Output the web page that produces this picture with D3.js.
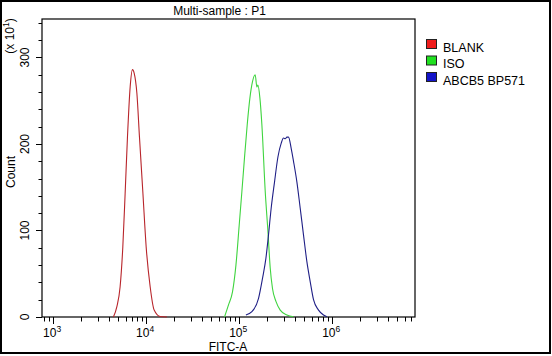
<!DOCTYPE html>
<html><head><meta charset="utf-8">
<script src="https://cdn.jsdelivr.net/npm/d3@7"></script>
<style>body{margin:0;background:#fff}svg{display:block}text{font-family:"Liberation Sans",Arial,sans-serif;fill:#000}</style>
</head><body><svg id="c" width="552" height="356"></svg>
<script>
const seriesNames = ["BLANK", "ISO", "ABCB5 BP571"];
const lineColors = ["#b8252b", "#3fd43f", "#1f1f86"];
const swatchColors = ["#ee1c1c", "#20e020", "#1414c8"];
const blankX = [4446,4842,5248,5610,5943,6295,6730,7129,7430,7943,8472,9226,10000,11041,12190,14160,16710];
const blankY = [0,12,35,81,143,208,266,286,282,259,208,143,81,35,8,0.5,0];
const isoX = [69500,76740,84720,92260,100000,106900,114000,121900,130300,139000,148600,154900,158800,167000,175400,190500,203700,215400,228000,248300,276100,325800,383700];
const isoY = [0,14,29,60,106,145,184,222,253,272,280,266,268,253,222,145,99,57,33,18,8,2.3,0.3];
const abcbX = [118000,137000,161400,178300,193800,206600,220800,239700,260800,283100,299500,312400,325800,339000,362100,383700,417300,452500,491100,534100,579700,629400,712700,805700,876400];
const abcbY = [2.3,6.1,21.6,45,68,95,126,156,185,201,207,206,208,208,195,180,156,126,95,64,41,20,8,2.3,0.3];
const xMajorTicks = [1e3, 1e4, 1e5, 1e6];
const yMajorTicks = [0, 100, 200, 300];
const xDomain = [759, 7.76e6];
const yDomain = [0, 344.5];
const title = "Multi-sample : P1";
const xLabel = "FITC-A";
const yLabel = "Count";

const svg = d3.select("#c");
const L = 42, T = 19, R = 415, B = 317;
const x = d3.scaleLog().domain(xDomain).range([L, R]);
const y = d3.scaleLinear().domain(yDomain).range([B, T]);

// outer frame
svg.append("rect").attr("x",1).attr("y",1).attr("width",549).attr("height",352)
  .attr("fill","none").attr("stroke","#000").attr("stroke-width",2);
// plot frame
svg.append("rect").attr("x",L).attr("y",T).attr("width",R-L).attr("height",B-T)
  .attr("fill","none").attr("stroke","#000").attr("stroke-width",1.2);

// x ticks
const xMinor = [];
for (let e = 2; e <= 6; e++) for (let m = 1; m <= 9; m++) {
  const v = m * Math.pow(10, e);
  if (v >= xDomain[0] && v <= xDomain[1]) xMinor.push(v);
}
svg.append("g").selectAll("line").data(xMinor).join("line")
  .attr("x1", d => Math.round(x(d)) + 0.5).attr("x2", d => Math.round(x(d)) + 0.5)
  .attr("y1", B).attr("y2", d => xMajorTicks.includes(d) ? B + 7 : B + 4.5)
  .attr("stroke", "#000").attr("stroke-width", 1);
const xl = svg.append("g").selectAll("text").data(xMajorTicks).join("text")
  .attr("x", d => x(d) - 1).attr("y", 337).attr("text-anchor", "middle").attr("font-size", 12);
xl.append("tspan").text("10");
xl.append("tspan").attr("dy", -5).attr("font-size", 8.5).text(d => Math.round(Math.log10(d)));

// y ticks
const yTicks = d3.range(0, 341, 20);
svg.append("g").selectAll("line").data(yTicks).join("line")
  .attr("x1", d => yMajorTicks.includes(d) ? L - 6 : L - 3.5).attr("x2", L)
  .attr("y1", d => Math.round(y(d)) + 0.5).attr("y2", d => Math.round(y(d)) + 0.5)
  .attr("stroke", "#000").attr("stroke-width", 1);
svg.append("g").selectAll("text").data(yMajorTicks).join("text")
  .attr("transform", d => `translate(29,${y(d)}) rotate(-90)`)
  .attr("text-anchor", "middle").attr("font-size", 12).text(d => d);

// axis labels
svg.append("text").attr("transform", "translate(15,172) rotate(-90)")
  .attr("text-anchor", "middle").attr("font-size", 12).text(yLabel);
const mult = svg.append("text").attr("transform", "translate(14,36) rotate(-90)")
  .attr("text-anchor", "middle").attr("font-size", 12);
mult.append("tspan").text("(x 10");
mult.append("tspan").attr("dy", -5).attr("font-size", 8.5).text("1");
mult.append("tspan").attr("dy", 5).text(")");
svg.append("text").attr("x", 228).attr("y", 351).attr("text-anchor", "middle").attr("font-size", 12).text(xLabel);
svg.append("text").attr("x", 219.5).attr("y", 15).attr("text-anchor", "middle").attr("font-size", 12).text(title);

// curves
const series = [[blankX, blankY], [isoX, isoY], [abcbX, abcbY]];
const line = d3.line().x(d => x(d[0])).y(d => y(d[1])).curve(d3.curveMonotoneX);
svg.append("g").selectAll("path").data(series).join("path")
  .attr("d", s => line(s[0].map((v, i) => [v, s[1][i]])))
  .attr("fill", "none").attr("stroke", (d, i) => lineColors[i]).attr("stroke-width", 1.1);

// legend
const lg = svg.append("g").selectAll("g").data(seriesNames).join("g")
  .attr("transform", (d, i) => `translate(426,${39 + i * 16.5})`);
lg.append("rect").attr("x", 0.5).attr("y", 0.5).attr("width", 10).attr("height", 9)
  .attr("fill", (d, i) => swatchColors[i]).attr("stroke", "#222").attr("stroke-width", 1);
lg.append("text").attr("x", 17).attr("y", 12.5).attr("font-size", 12.5).text(d => d);
</script></body></html>
